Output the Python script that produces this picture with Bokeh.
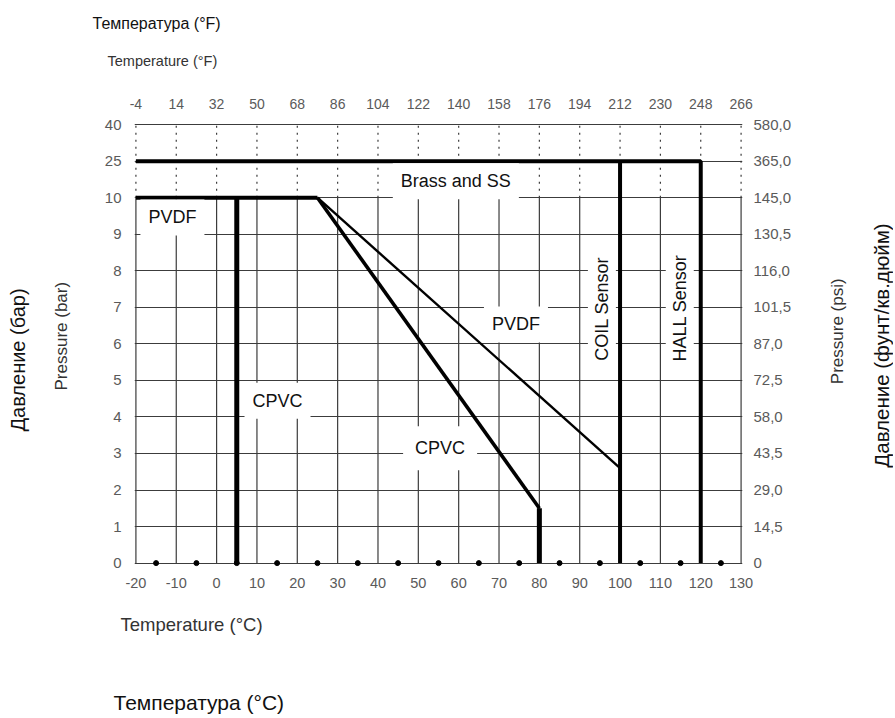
import math
import numpy as np
from bokeh.plotting import figure
from bokeh.layouts import row
from bokeh.models import Range1d, LinearAxis, FixedTicker, Label, Grid, Title
from bokeh.embed import file_html
from bokeh.resources import INLINE

# ---------------- data ----------------
temp_c_ticks = [-20, -10, 0, 10, 20, 30, 40, 50, 60, 70, 80, 90, 100, 110, 120, 130]
temp_c_labels = ["-20", "-10", "0", "10", "20", "30", "40", "50", "60", "70",
                 "80", "90", "100", "110", "120", "130"]
temp_f_labels = ["-4", "14", "32", "50", "68", "86", "104", "122", "140", "158",
                 "176", "194", "212", "230", "248", "266"]
bar_levels = [0, 1, 2, 3, 4, 5, 6, 7, 8, 9, 10, 25, 40]
bar_labels = ["0", "1", "2", "3", "4", "5", "6", "7", "8", "9", "10", "25", "40"]
psi_labels = ["0", "14,5", "29,0", "43,5", "58,0", "72,5", "87,0", "101,5",
              "116,0", "130,5", "145,0", "365,0", "580,0"]
dot_temps = [-15, -5, 5, 15, 25, 35, 45, 55, 65, 75, 85, 95, 105, 115, 125]

brass_t = [-20, 120, 120]
brass_p = [25, 25, 0]
coil_t = [100, 100]
coil_p = [25, 0]
pvdf_flat_t = [-20, 25]
pvdf_flat_p = [10, 10]
pvdf_slope_t = [25, 100]
pvdf_slope_p = [10, 2.6]
cpvc_low_t = [5, 5]
cpvc_low_p = [0, 10]
cpvc_slope_t = [25, 80]
cpvc_slope_p = [10, 1.5]
cpvc_end_t = [80, 80]
cpvc_end_p = [1.5, 0]

# pressure axis is piecewise (0..10 linear, then 25, 40 evenly spaced)
level_pos = list(range(len(bar_levels)))


def pos(vals):
    return [float(v) for v in np.interp(vals, bar_levels, level_pos)]


FONT = "Liberation Sans"
GRID = "#3c3c3c"
TICK = "#5a5a5a"
H = 716
W1, W2 = 805, 88                       # main chart + right text strip
FL, FT, FW, FH = 134, 123, 608, 444    # frame placement

p = figure(width=W1, height=H,
           x_range=Range1d(-20.35, 130.35), y_range=Range1d(-0.12, 12.03),
           x_axis_type=None, y_axis_type=None,
           output_backend="svg", toolbar_location=None,
           min_border_left=FL, min_border_right=W1 - FL - FW,
           min_border_top=FT, min_border_bottom=H - FT - FH)
p.outline_line_color = None
p.background_fill_color = "white"

# horizontal grid (incl. top and bottom border)
ytick_pos = pos(bar_levels)
p.add_layout(Grid(dimension=1, ticker=FixedTicker(ticks=ytick_pos),
                  grid_line_color=GRID, grid_line_width=1.2))

# vertical grid: solid up to 10 bar, dotted above
n = len(temp_c_ticks)
y0, y10, ytop = pos([bar_levels[0], 10, bar_levels[-1]])
p.segment(x0=temp_c_ticks, y0=[y0] * n, x1=temp_c_ticks, y1=[y10] * n,
          line_color=GRID, line_width=1.2)
p.segment(x0=temp_c_ticks, y0=[y10] * n, x1=temp_c_ticks, y1=[ytop] * n,
          line_color=GRID, line_width=1.2, line_dash="2 5")


def style_axis(ax, size):
    ax.axis_line_color = None
    ax.major_tick_line_color = None
    ax.minor_tick_line_color = None
    ax.major_tick_out = 0
    ax.major_tick_in = 0
    ax.minor_tick_out = 0
    ax.minor_tick_in = 0
    ax.major_label_text_font = FONT
    ax.major_label_text_font_size = size
    ax.major_label_text_color = TICK


def spacer(side, gap):
    # an empty axis whose (white, invisible) tick length reserves space
    horiz = side in ("above", "below")
    tick = [130.35] if horiz else [12.03]
    ax = LinearAxis(ticker=FixedTicker(ticks=tick), major_label_standoff=0)
    style_axis(ax, "1px")
    ax.major_label_text_color = None
    ax.major_tick_line_color = "white"
    ax.major_tick_out = gap
    p.add_layout(ax, side)


def side_title(side, text, size, color, offset=0, align="left"):
    p.add_layout(Title(text=text, align=align, offset=offset, vertical_align="middle",
                       standoff=0, text_font=FONT, text_font_size=size,
                       text_font_style="normal", text_color=color), side)


# ---- bottom: °C axis + titles
xb = LinearAxis(ticker=FixedTicker(ticks=temp_c_ticks), major_label_standoff=10,
                major_label_overrides={float(t): s for t, s in zip(temp_c_ticks, temp_c_labels)})
style_axis(xb, "14.5px")
p.add_layout(xb, "below")
spacer("below", 22)
side_title("below", "Temperature (°C)", "18.5px", "#333333", offset=-14)
spacer("below", 54)
side_title("below", "Температура (°C)", "21px", "#111111", offset=-21)

# ---- top: °F axis + titles
xt = LinearAxis(ticker=FixedTicker(ticks=temp_c_ticks), major_label_standoff=15,
                major_label_overrides={float(t): f for t, f in zip(temp_c_ticks, temp_f_labels)})
style_axis(xt, "14px")
p.add_layout(xt, "above")
spacer("above", 26)
side_title("above", "Temperature (°F)", "14.5px", "#333333", offset=-27)
spacer("above", 19)
side_title("above", "Температура (°F)", "16px", "#111111", offset=-42)

# ---- left: bar axis + titles
yl = LinearAxis(ticker=FixedTicker(ticks=ytick_pos), major_label_standoff=13,
                major_label_overrides={float(t): s for t, s in zip(ytick_pos, bar_labels)})
style_axis(yl, "15px")
p.add_layout(yl, "left")
spacer("left", 30)
side_title("left", "Pressure (bar)", "17px", "#333333", offset=177)
spacer("left", 21)
side_title("left", "Давление (бар)", "20px", "#111111", offset=136)

# ---- right: psi axis
yr = LinearAxis(ticker=FixedTicker(ticks=ytick_pos), major_label_standoff=11,
                major_label_overrides={float(t): s for t, s in zip(ytick_pos, psi_labels)})
style_axis(yr, "15px")
p.add_layout(yr, "right")

# data lines
p.line(brass_t, pos(brass_p), line_color="black", line_width=4)
p.line(coil_t, pos(coil_p), line_color="black", line_width=4)
p.line(pvdf_flat_t, pos(pvdf_flat_p), line_color="black", line_width=4)
p.line(pvdf_slope_t, pos(pvdf_slope_p), line_color="black", line_width=2.4)
p.line(cpvc_low_t, pos(cpvc_low_p), line_color="black", line_width=5)
p.line(cpvc_slope_t, pos(cpvc_slope_p), line_color="black", line_width=3.6)
p.line(cpvc_end_t, pos(cpvc_end_p), line_color="black", line_width=5)
p.scatter(dot_temps, pos([0] * len(dot_temps)), size=5, color="black")


# in-chart labels
def inlabel(x, y, text, angle=0.0, pad=8):
    p.add_layout(Label(x=x, y=y, text=text, angle=angle, text_font=FONT,
                       text_font_size="18px", text_color="#111111",
                       text_align="center", text_baseline="middle",
                       background_fill_color="white", padding=pad))


inlabel(59.3, 10.45, "Brass and SS")
inlabel(-10.95, 9.46, "PVDF")
inlabel(15.1, 4.44, "CPVC")
inlabel(74.2, 6.53, "PVDF")
inlabel(55.4, 3.14, "CPVC", pad=12)
inlabel(95.5, 6.96, "COIL Sensor", angle=np.pi / 2, pad=4)
inlabel(114.8, 6.98, "HALL Sensor", angle=np.pi / 2, pad=4)

# ---- right text strip (pixel coordinates inside its own frame)
p2 = figure(width=W2, height=H, x_range=Range1d(0, W2), y_range=Range1d(0, H),
            x_axis_type=None, y_axis_type=None, min_border=0,
            output_backend="svg", toolbar_location=None)
p2.outline_line_color = None
for x, y, txt, size, color in [(837 - W1, H - 335, "Pressure (psi)", "17px", "#333333"),
                               (881 - W1, H - 358, "Давление (фунт/кв.дюйм)", "20.5px", "#111111")]:
    p2.add_layout(Label(x=x, y=y, text=txt, angle=math.pi / 2, text_font=FONT,
                        text_font_size=size, text_color=color,
                        text_align="center", text_baseline="middle"))

layout = row(p, p2, spacing=0)
open("out.html", "w").write(file_html(layout, INLINE))
